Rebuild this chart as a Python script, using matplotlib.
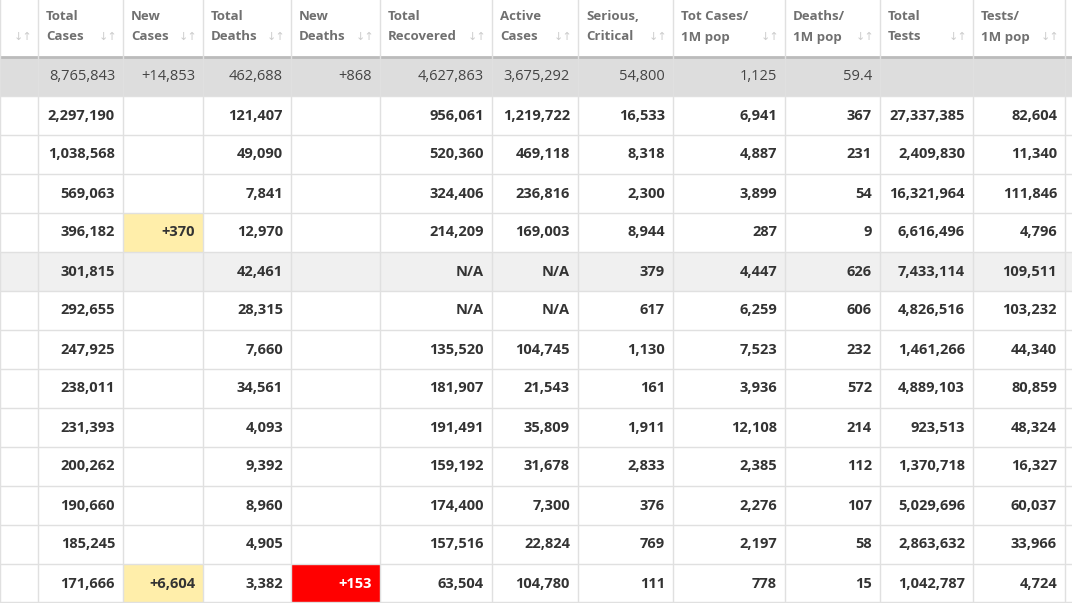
import matplotlib
matplotlib.use("Agg")
import matplotlib.pyplot as plt
from matplotlib.patches import Rectangle

headers = [("", ""), ("Total", "Cases"), ("New", "Cases"), ("Total", "Deaths"), ("New", "Deaths"),
           ("Total", "Recovered"), ("Active", "Cases"), ("Serious,", "Critical"), ("Tot Cases/", "1M pop"),
           ("Deaths/", "1M pop"), ("Total", "Tests"), ("Tests/", "1M pop")]
total_row = ["", "8,765,843", "+14,853", "462,688", "+868", "4,627,863", "3,675,292", "54,800", "1,125", "59.4", "", ""]
total_cases = ["2,297,190", "1,038,568", "569,063", "396,182", "301,815", "292,655", "247,925", "238,011", "231,393", "200,262", "190,660", "185,245", "171,666"]
new_cases = ["", "", "", "+370", "", "", "", "", "", "", "", "", "+6,604"]
total_deaths = ["121,407", "49,090", "7,841", "12,970", "42,461", "28,315", "7,660", "34,561", "4,093", "9,392", "8,960", "4,905", "3,382"]
new_deaths = ["", "", "", "", "", "", "", "", "", "", "", "", "+153"]
total_recovered = ["956,061", "520,360", "324,406", "214,209", "N/A", "N/A", "135,520", "181,907", "191,491", "159,192", "174,400", "157,516", "63,504"]
active_cases = ["1,219,722", "469,118", "236,816", "169,003", "N/A", "N/A", "104,745", "21,543", "35,809", "31,678", "7,300", "22,824", "104,780"]
serious = ["16,533", "8,318", "2,300", "8,944", "379", "617", "1,130", "161", "1,911", "2,833", "376", "769", "111"]
cases_per_m = ["6,941", "4,887", "3,899", "287", "4,447", "6,259", "7,523", "3,936", "12,108", "2,385", "2,276", "2,197", "778"]
deaths_per_m = ["367", "231", "54", "9", "626", "606", "232", "572", "214", "112", "107", "58", "15"]
total_tests = ["27,337,385", "2,409,830", "16,321,964", "6,616,496", "7,433,114", "4,826,516", "1,461,266", "4,889,103", "923,513", "1,370,718", "5,029,696", "2,863,632", "1,042,787"]
tests_per_m = ["82,604", "11,340", "111,846", "4,796", "109,511", "103,232", "44,340", "80,859", "48,324", "16,327", "60,037", "33,966", "4,724"]

cols = [[""] * 13, total_cases, new_cases, total_deaths, new_deaths, total_recovered, active_cases,
        serious, cases_per_m, deaths_per_m, total_tests, tests_per_m]

xb = [0, 38, 123, 203, 291, 380, 492, 578, 673, 785, 880, 973, 1065]
hdr_h = 57
row_h = 39.0

fig = plt.figure(figsize=(10.72, 6.03), dpi=100)
ax = fig.add_axes([0, 0, 1, 1])
ax.set_xlim(0, 1072)
ax.set_ylim(603, 0)
ax.axis("off")
font = "Open Sans"

# header
for c, (l1, l2) in enumerate(headers):
    x0 = xb[c]
    if l1:
        ax.text(x0 + 8, 17, l1, fontsize=9.5, fontweight="bold", color="#707070", family=font, va="center", ha="left")
    if l2:
        ax.text(x0 + 8, 37, l2, fontsize=9.5, fontweight="bold", color="#707070", family=font, va="center", ha="left")
    ax.text(xb[c + 1] - 6, 37, "↓↑", fontsize=8, color="#cccccc", va="center", ha="right")

# total row
ax.add_patch(Rectangle((0, hdr_h), 1072, row_h, facecolor="#dddddd", edgecolor="none"))
ax.plot([0, 1072], [hdr_h, hdr_h], color="#bbbbbb", lw=2)
for c in range(1, 12):
    if total_row[c]:
        ax.text(xb[c + 1] - 8, hdr_h + row_h / 2, total_row[c], fontsize=10.5, color="#444444", family=font, va="center", ha="right")

# data rows
for r in range(13):
    y0 = hdr_h + row_h * (r + 1)
    if r == 4:
        ax.add_patch(Rectangle((0, y0), 1072, row_h, facecolor="#f0f0f0", edgecolor="none"))
    for c in range(1, 12):
        v = cols[c][r]
        fc = None
        tc = "#333333"
        if c == 2 and v:
            fc = "#ffeeaa"
        if c == 4 and v:
            fc = "#ff0000"
            tc = "white"
        if fc:
            ax.add_patch(Rectangle((xb[c], y0), xb[c + 1] - xb[c], row_h, facecolor=fc, edgecolor="none"))
        if v:
            ax.text(xb[c + 1] - 8, y0 + row_h / 2, v, fontsize=10.5, fontweight="bold", color=tc, family=font, va="center", ha="right")
    ax.plot([0, 1072], [y0, y0], color="#e0e0e0", lw=1)

# vertical lines
for x in xb:
    ax.plot([x, x], [0, 603], color="#e0e0e0", lw=1)
ax.plot([0, 1072], [602, 602], color="#e0e0e0", lw=1)

fig.savefig("out.png", dpi=100)
